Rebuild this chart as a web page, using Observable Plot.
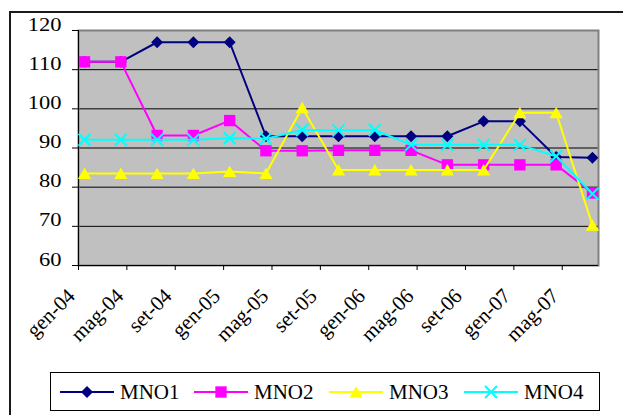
<!DOCTYPE html>
<html>
<head>
<meta charset="utf-8">
<script src="https://cdn.jsdelivr.net/npm/d3@7"></script>
<script src="https://cdn.jsdelivr.net/npm/@observablehq/plot@0.6"></script>
<style>
  html, body { margin: 0; padding: 0; background: #fff; }
  #page { position: relative; width: 623px; height: 415px; overflow: hidden;
          font-family: "Liberation Serif", "Times New Roman", serif; }
  #frame { position: absolute; left: 9px; top: 11px; width: 700px; height: 500px;
           border-left: 2px solid #1a1a1a; border-top: 2px solid #1a1a1a; }
  #chart { position: absolute; left: 0; top: 0; }
  #legend { position: absolute; left: 50px; top: 372px; width: 548px; height: 37px;
            border: 1px solid #000; background: #fff; }
</style>
</head>
<body>
<div id="page">
  <div id="frame"></div>
  <div id="chart"></div>
  <div id="legend"></div>
</div>
<script>
// Quarterly observations (year-month)
const periods = ["2004-01", "2004-04", "2004-07", "2004-10",
                 "2005-01", "2005-04", "2005-07", "2005-10",
                 "2006-01", "2006-04", "2006-07", "2006-10",
                 "2007-01", "2007-04", "2007-07"];

const mno1 = [112, 112, 117, 117, 117, 93, 93, 93, 93, 93, 93, 96.8, 96.8, 87.7, 87.5];
const mno2 = [112, 112, 93.2, 93.2, 97, 89.3, 89.3, 89.4, 89.4, 89.4, 85.7, 85.7, 85.7, 85.7, 78.5];
const mno3 = [83.5, 83.5, 83.5, 83.5, 84, 83.5, 100.3, 84.4, 84.4, 84.4, 84.4, 84.4, 99, 99, 70.3];
const mno4 = [92.1, 92.1, 92.1, 92.1, 92.5, 92.4, 94.6, 94.5, 94.6, 90.8, 90.8, 90.8, 90.8, 87.9, 78.3];

const seriesNames = ["MNO1", "MNO2", "MNO3", "MNO4"];
const seriesValues = [mno1, mno2, mno3, mno4];
const seriesColors = ["#000080", "#ff00ff", "#ffff00", "#00ffff"];
const seriesSymbols = ["diamond2", "square", "triangle", "times"];

const yTicks = [60, 70, 80, 90, 100, 110, 120];
const tickLabels = ["gen-04", "mag-04", "set-04", "gen-05", "mag-05", "set-05",
                    "gen-06", "mag-06", "set-06", "gen-07", "mag-07"];
const itMonths = ["gen", "feb", "mar", "apr", "mag", "giu", "lug", "ago", "set", "ott", "nov", "dic"];

// Month axis: one slot per month from gen-04 to lug-07
const firstYear = 2004;
const monthCount = 43;
const monthOfPeriod = (p) => { const [y, m] = p.split("-").map(Number); return (y - firstYear) * 12 + (m - 1); };
const monthOfLabel = (l) => { const [m, yy] = l.split("-"); return (2000 + +yy - firstYear) * 12 + itMonths.indexOf(m); };

// Marker look per series
const markerStyle = {
  MNO1: {r: 5.4, fill: "#000080", stroke: "none", dy: 0},
  MNO2: {r: 6.4, fill: "#ff00ff", stroke: "none", dy: 0},
  MNO3: {r: 4.9, fill: "#ffff00", stroke: "none", dy: 1.8},
  MNO4: {r: 5.5, fill: "none", stroke: "#00ffff", dy: 0}
};

const seriesRows = seriesNames.map((name, s) =>
  seriesValues[s].map((v, i) => ({name, t: monthOfPeriod(periods[i]) + 0.5, v})));

const seriesMarks = seriesNames.flatMap((name, s) => {
  const ms = markerStyle[name];
  return [
    Plot.line(seriesRows[s], {x: "t", y: "v", stroke: seriesColors[s], strokeWidth: 2}),
    Plot.dot(seriesRows[s], {x: "t", y: "v", symbol: () => seriesSymbols[s], r: ms.r,
      fill: ms.fill, stroke: ms.stroke, strokeWidth: 2, dy: ms.dy})
  ];
});

const chart = Plot.plot({
  width: 623,
  height: 345,
  marginLeft: 78,
  marginRight: 25,
  marginTop: 30,
  marginBottom: 80,
  style: {fontFamily: "'Liberation Serif', 'Times New Roman', serif", fontSize: "21px",
          color: "#000", background: "transparent", overflow: "visible"},
  x: {type: "linear", domain: [0, monthCount], label: null},
  y: {domain: [60, 120], label: null},
  symbol: {type: "identity"},
  marks: [
    Plot.frame({fill: "#c0c0c0"}),
    Plot.gridY(yTicks.slice(1, -1), {stroke: "#000", strokeOpacity: 1}),
    Plot.frame({stroke: "#808080", strokeWidth: 2}),
    Plot.ruleX([0], {stroke: "#000"}),
    Plot.ruleY([60], {stroke: "#000"}),
    Plot.axisY({ticks: yTicks, tickSize: 6, tickPadding: 11, fontSize: 18}),
    Plot.axisX({ticks: tickLabels.map(monthOfLabel), tickSize: 5, tickFormat: () => ""}),
    Plot.text(tickLabels, {x: monthOfLabel, text: (d) => d, frameAnchor: "bottom",
      rotate: -45, textAnchor: "end", lineAnchor: "middle", dx: -7, dy: 27,
      fontSize: 21, fill: "#000"}),
    ...seriesMarks
  ]
});
document.getElementById("chart").appendChild(chart);

// Wide serif figures on the value axis
chart.querySelectorAll('g[aria-label="y-axis tick label"] text').forEach((el) => {
  const x = +el.getAttribute("x") || 0, y = +el.getAttribute("y") || 0;
  el.removeAttribute("x"); el.removeAttribute("y");
  const t = el.getAttribute("transform") || "";
  el.setAttribute("transform", `${t} translate(${x},${y}) scale(1.25,1)`);
});

// Legend: line + marker swatch for each series
const symbolTypes = {diamond2: d3.symbolDiamond2, square: d3.symbolSquare,
                     triangle: d3.symbolTriangle, times: d3.symbolTimes};
const legendSvg = d3.select("#legend").append("svg")
  .attr("width", 548).attr("height", 37)
  .style("display", "block");
const itemX = [9, 143, 278, 413];
seriesNames.forEach((name, s) => {
  const ms = markerStyle[name];
  const g = legendSvg.append("g").attr("transform", `translate(${itemX[s]},19)`);
  g.append("line").attr("x1", 0).attr("x2", 54).attr("y1", 0).attr("y2", 0)
    .attr("stroke", seriesColors[s]).attr("stroke-width", 2);
  g.append("path")
    .attr("transform", `translate(27,${ms.dy})`)
    .attr("d", d3.symbol(symbolTypes[seriesSymbols[s]], Math.PI * ms.r * ms.r)())
    .attr("fill", ms.fill).attr("stroke", ms.stroke).attr("stroke-width", 2);
  g.append("text").attr("x", 60).attr("y", 0).attr("dy", "0.35em")
    .attr("font-family", "'Liberation Serif', 'Times New Roman', serif")
    .attr("font-size", 21).attr("fill", "#000").text(name);
});
</script>
</body>
</html>
